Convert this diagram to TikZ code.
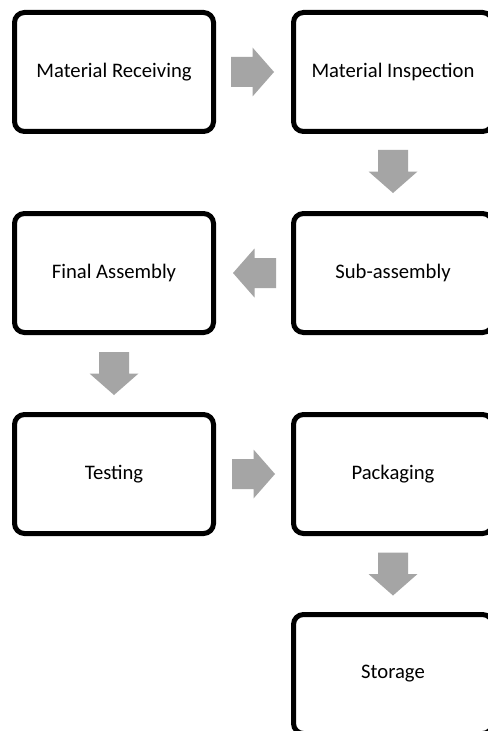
\documentclass[tikz,border=0pt]{standalone}
\usepackage{fontspec}
\setmainfont{Carlito}
\usetikzlibrary{calc}

\definecolor{flowgray}{HTML}{A5A5A5}

\tikzset{
  stagebox/.style={draw=black, line width=3.75pt, rounded corners=7.5pt,
    minimum width=149.25pt, minimum height=89.25pt, inner sep=0pt,
    font=\fontsize{15.5}{18}\selectfont, text=black},
  flowfill/.style={fill=flowgray, draw=none}
}

% block arrows drawn around a centre point (units: px, y downwards)
\newcommand{\rightblock}[1]{%
  \fill[flowfill, shift={(#1)}] (-21.5,-15) -- (0,-15) -- (0,-24.5) -- (21.5,0)
    -- (0,24.5) -- (0,15) -- (-21.5,15) -- cycle;}
\newcommand{\leftblock}[1]{%
  \fill[flowfill, shift={(#1)}] (21.5,-15) -- (0,-15) -- (0,-24.5) -- (-21.5,0)
    -- (0,24.5) -- (0,15) -- (21.5,15) -- cycle;}
\newcommand{\downblock}[1]{%
  \fill[flowfill, shift={(#1)}] (-15,-21.5) -- (-15,0) -- (-24.5,0) -- (0,21.5)
    -- (24.5,0) -- (15,0) -- (15,-21.5) -- cycle;}

\begin{document}
\begin{tikzpicture}[x=0.75pt,y=-0.75pt]
  \useasboundingbox (0,0) rectangle (488,731);
  \clip (0,0) rectangle (488,731);
  \fill[white] (0,0) rectangle (488,731);

  \node[stagebox] (recv) at (114,72)  {Material Receiving};
  \node[stagebox] (insp) at (393,72)  {Material Inspection};
  \node[stagebox] (sub)  at (393,273) {Sub-assembly};
  \node[stagebox] (fin)  at (114,273) {Final Assembly};
  \node[stagebox] (test) at (114,474) {Testing};
  \node[stagebox] (pack) at (393,474) {Packaging};
  \node[stagebox] (stor) at (393,674) {Storage};

  \coordinate (m1) at ($(recv.east)!0.5!(insp.west)+(-1,0)$);
  \coordinate (m2) at ($(insp.south)!0.5!(sub.north)+(0,-1)$);
  \coordinate (m3) at ($(sub.west)!0.5!(fin.east)+(1,0)$);
  \coordinate (m4) at ($(fin.south)!0.5!(test.north)$);
  \coordinate (m5) at ($(test.east)!0.5!(pack.west)$);
  \coordinate (m6) at ($(pack.south)!0.5!(stor.north)$);

  \rightblock{m1}
  \downblock{m2}
  \leftblock{m3}
  \downblock{m4}
  \rightblock{m5}
  \downblock{m6}
\end{tikzpicture}
\end{document}
